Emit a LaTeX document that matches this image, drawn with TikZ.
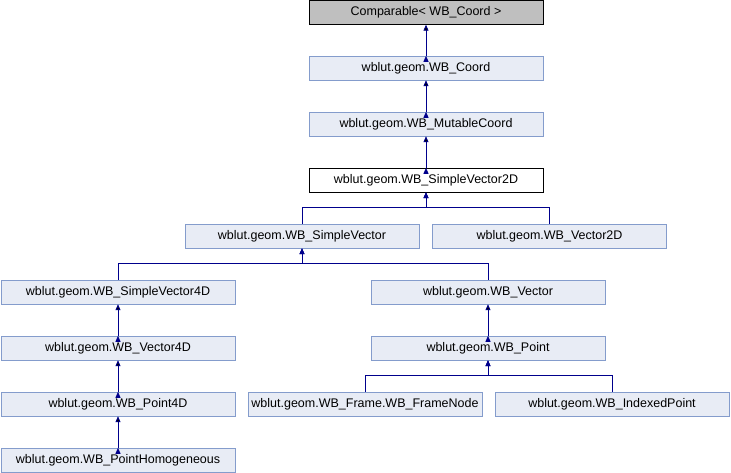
\documentclass[tikz,border=0pt]{standalone}
\usepackage{fontspec}
\setmainfont{Liberation Sans}
\usetikzlibrary{arrows.meta,positioning}

\definecolor{boxfill}{RGB}{232,236,245}
\definecolor{boxline}{RGB}{132,156,204}
\definecolor{edgeblue}{RGB}{0,0,140}

\begin{document}
\begin{tikzpicture}[x=1pt,y=-1pt,
    cls/.style={draw=boxline,fill=boxfill,minimum width=234pt,minimum height=24pt,inner sep=0pt,font=\fontsize{12.5}{14}\selectfont},
    ext/.style={cls,draw=black,fill=black!25},
    cur/.style={cls,draw=black,fill=white},
    inh/.style={draw=edgeblue,line width=0.9pt,-{Triangle[width=5pt,length=6pt]}}]
\useasboundingbox (0,0) rectangle (731,472);
\node[ext] (comp)  at (426,12.5) {Comparable< WB\_Coord >};
\node[cls] (coord) at (426,68)   {wblut.geom.WB\_Coord};
\node[cls] (mut)   at (426,124)  {wblut.geom.WB\_MutableCoord};
\node[cur] (sv2d)  at (426,180)  {wblut.geom.WB\_SimpleVector2D};
\node[cls] (sv)    at (302,236)  {wblut.geom.WB\_SimpleVector};
\node[cls] (v2d)   at (549.5,236) {wblut.geom.WB\_Vector2D};
\node[cls] (sv4d)  at (118,292)  {wblut.geom.WB\_SimpleVector4D};
\node[cls] (vec)   at (488,292)  {wblut.geom.WB\_Vector};
\node[cls] (v4d)   at (118,348)  {wblut.geom.WB\_Vector4D};
\node[cls] (pt)    at (488,348)  {wblut.geom.WB\_Point};
\node[cls] (p4d)   at (118,404)  {wblut.geom.WB\_Point4D};
\node[cls] (frame) at (365,404)  {wblut.geom.WB\_Frame.WB\_FrameNode};
\node[cls] (ip)    at (612,404)  {wblut.geom.WB\_IndexedPoint};
\node[cls] (ph)    at (118,460)  {wblut.geom.WB\_PointHomogeneous};
% straight lines
\path[inh] (coord.north) edge (comp.south);
\path[inh] (mut.north) edge (coord.south);
\path[inh] (sv2d.north) edge (mut.south);
\path[inh] (v4d.north) edge (sv4d.south);
\path[inh] (p4d.north) edge (v4d.south);
\path[inh] (ph.north) edge (p4d.south);
\path[inh] (pt.north) edge (vec.south);
% branches
\draw[inh] (sv.north) -- ++(0,-16) -| (sv2d.south);
\draw[inh] (v2d.north) -- ++(0,-16) -| (sv2d.south);
\draw[inh] (sv4d.north) -- ++(0,-16) -| (sv.south);
\draw[inh] (vec.north) -- ++(0,-16) -| (sv.south);
\draw[inh] (frame.north) -- ++(0,-16) -| (pt.south);
\draw[inh] (ip.north) -- ++(0,-16) -| (pt.south);
\end{tikzpicture}
\end{document}
